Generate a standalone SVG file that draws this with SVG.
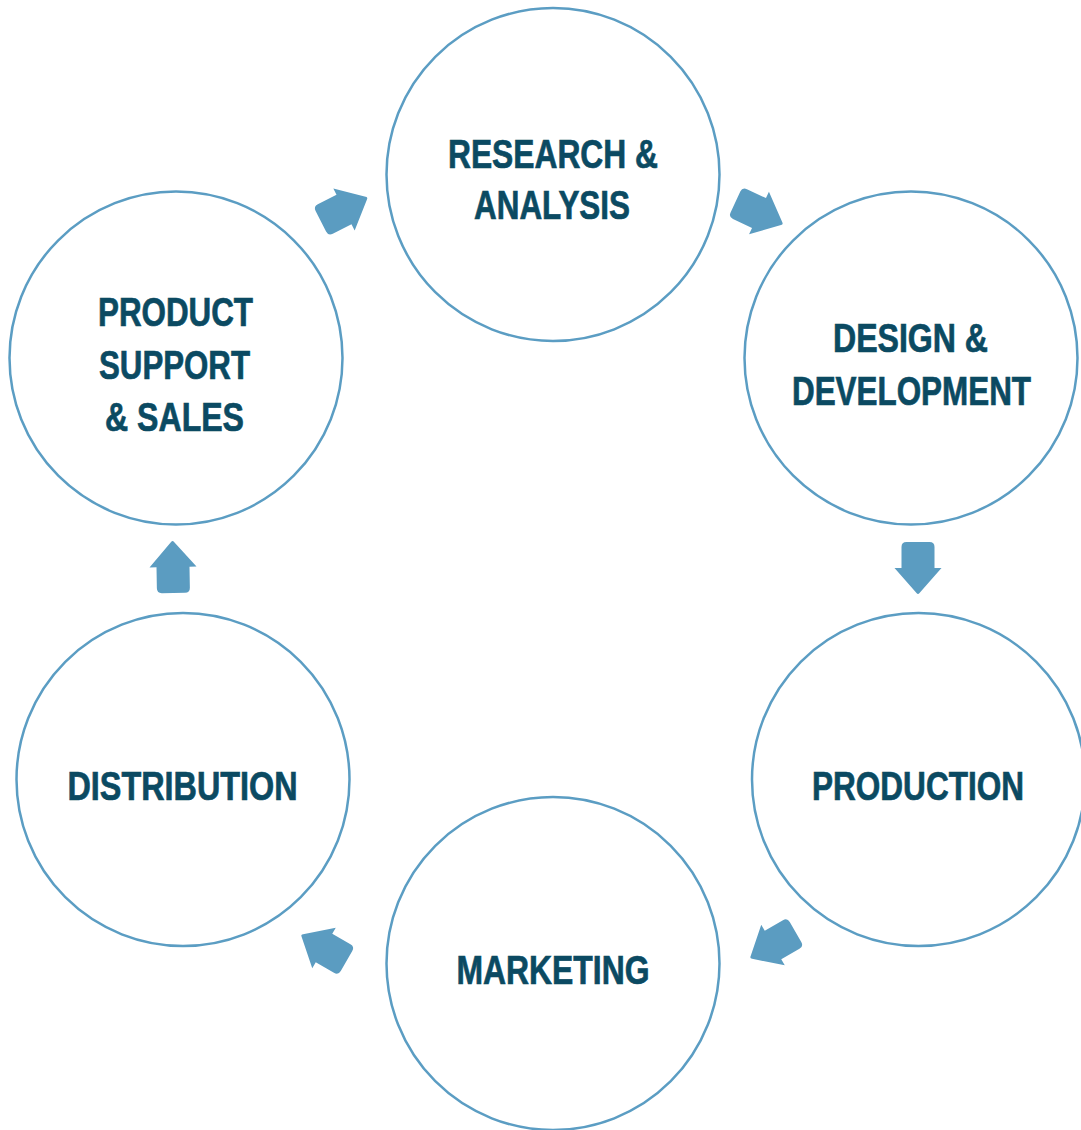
<svg xmlns="http://www.w3.org/2000/svg" xmlns:xlink="http://www.w3.org/1999/xlink" width="1081" height="1130" viewBox="0 0 1081 1130">
<style>
.node circle{fill:#fff;stroke:#5b9dc3;stroke-width:2.5}
.node text{font-family:"Liberation Sans Narrow","Liberation Sans",Arial,sans-serif;font-weight:bold;font-size:40px;fill:#0b4a62;stroke:#0b4a62;stroke-width:0.7;text-anchor:middle}
.arrow{fill:#5b9cc1}
</style>
<defs>
<path id="arr" d="M -21,-16.5 L 0,-16.5 L 0,-23.5 L 25,-1.5 Q 27,0 25,1.5 L 0,23.5 L 0,16.5 L -21,16.5 Q -26,16.5 -26,11.5 L -26,-11.5 Q -26,-16.5 -21,-16.5 Z"/>
</defs>
<rect width="1081" height="1130" fill="#fff"/>
<g id="research" class="node">
<circle cx="553" cy="174.5" r="166.5"/>
<text x="553" y="168" textLength="210" lengthAdjust="spacingAndGlyphs">RESEARCH &amp;</text>
<text x="552" y="219" textLength="156" lengthAdjust="spacingAndGlyphs">ANALYSIS</text>
</g>
<g id="design" class="node">
<circle cx="911" cy="358" r="166.5"/>
<text x="910.5" y="352" textLength="155" lengthAdjust="spacingAndGlyphs">DESIGN &amp;</text>
<text x="911.5" y="405" textLength="239" lengthAdjust="spacingAndGlyphs">DEVELOPMENT</text>
</g>
<g id="production" class="node">
<circle cx="918.5" cy="779.5" r="166.5"/>
<text x="918" y="800" textLength="212" lengthAdjust="spacingAndGlyphs">PRODUCTION</text>
</g>
<g id="marketing" class="node">
<circle cx="553" cy="963.5" r="166.5"/>
<text x="553" y="984" textLength="193" lengthAdjust="spacingAndGlyphs">MARKETING</text>
</g>
<g id="distribution" class="node">
<circle cx="183" cy="779.5" r="166.5"/>
<text x="182.5" y="800" textLength="230" lengthAdjust="spacingAndGlyphs">DISTRIBUTION</text>
</g>
<g id="product-support" class="node">
<circle cx="176" cy="358" r="166.5"/>
<text x="175.5" y="326" textLength="155" lengthAdjust="spacingAndGlyphs">PRODUCT</text>
<text x="174.5" y="379" textLength="151" lengthAdjust="spacingAndGlyphs">SUPPORT</text>
<text x="174.5" y="431" textLength="139" lengthAdjust="spacingAndGlyphs">&amp; SALES</text>
</g>
<g id="connectors" class="arrow">
<use xlink:href="#arr" transform="translate(344,209.5) rotate(-27)"/>
<use xlink:href="#arr" transform="translate(759,213) rotate(25)"/>
<use xlink:href="#arr" transform="translate(918,568) rotate(90)"/>
<use xlink:href="#arr" transform="translate(773,945) rotate(150)"/>
<use xlink:href="#arr" transform="translate(324,948) rotate(210)"/>
<use xlink:href="#arr" transform="translate(173,567) rotate(-91)"/>
</g>
</svg>
